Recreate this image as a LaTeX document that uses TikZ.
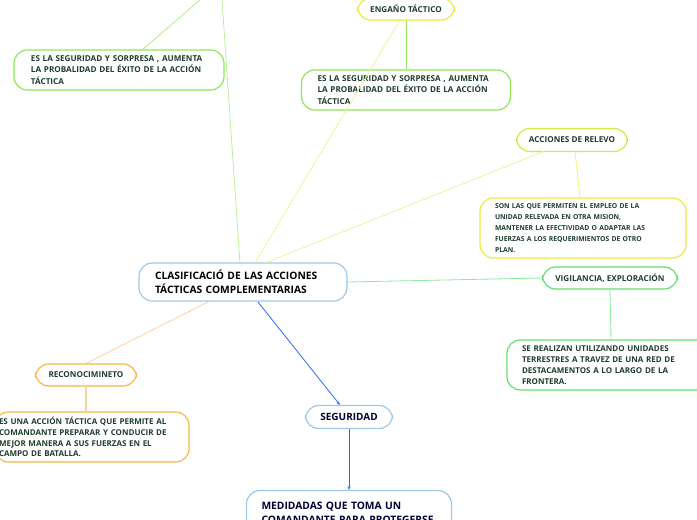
\documentclass[tikz,border=0pt]{standalone}
\usepackage{fontspec}
\setmainfont{Open Sans}
\usetikzlibrary{arrows.meta}
\begin{document}
\begin{tikzpicture}[x=0.75pt,y=-0.75pt,
 box/.style={draw,rounded corners=10pt,line width=0.9pt,inner sep=0pt,font=\bfseries\fontsize{6.1}{8.4}\selectfont,text=txt},
 tw/.style={text width=#1*0.75pt,align=left},
 lnk/.style={line width=0.6pt}]
\definecolor{txt}{HTML}{1E3D2C}
\definecolor{gr}{HTML}{8EE65A}
\definecolor{ye}{HTML}{EDEB3A}
\definecolor{lye}{HTML}{F3F09A}
\definecolor{or}{HTML}{F6B544}
\definecolor{lor}{HTML}{F9D39A}
\definecolor{bl}{HTML}{9DC7E6}
\definecolor{arr}{HTML}{2C6BF0}
\definecolor{vg}{HTML}{5EE06E}
\useasboundingbox (0,0) rectangle (697,520);
% nodes
\node[box,draw=bl,minimum width=208*0.75pt,minimum height=38*0.75pt,text=black,font=\bfseries\fontsize{7.7}{10.5}\selectfont,tw=176] (c) at (243,282) {CLASIFICACIÓ DE LAS ACCIONES\\TÁCTICAS COMPLEMENTARIAS};
\node[box,draw=gr,minimum width=210*0.75pt,minimum height=40*0.75pt,tw=176] (a1) at (119,70) {ES LA SEGURIDAD Y SORPRESA ,  AUMENTA\\LA PROBALIDAD DEL ÉXITO DE LA ACCIÓN\\TÁCTICA};
\node[box,draw=ye,minimum width=97*0.75pt,minimum height=22*0.75pt] (eng) at (406,9) {ENGAÑO TÁCTICO};
\node[box,draw=gr,minimum width=209*0.75pt,minimum height=40*0.75pt,tw=177] (a2) at (406,90) {ES LA SEGURIDAD Y SORPRESA ,  AUMENTA\\LA PROBALIDAD DEL ÉXITO DE LA ACCIÓN\\TÁCTICA};
\node[box,draw=ye!70!gr,minimum width=111*0.75pt,minimum height=23*0.75pt] (rel) at (572,140) {ACCIONES DE RELEVO};
\node[box,draw=ye,minimum width=206*0.75pt,minimum height=60*0.75pt,tw=176,font=\bfseries\fontsize{5.1}{8.2}\selectfont] (reld) at (583,228) {SON LAS QUE PERMITEN EL EMPLEO DE LA\\UNIDAD RELEVADA EN OTRA MISION,\\MANTENER LA EFECTIVIDAD O ADAPTAR LAS\\FUERZAS A LOS REQUERIMIENTOS DE OTRO\\PLAN.};
\node[box,draw=vg,minimum width=135*0.75pt,minimum height=22*0.75pt] (vig) at (610,278) {VIGILANCIA, EXPLORACIÓN};
\node[box,draw=vg,minimum width=210*0.75pt,minimum height=50*0.75pt,tw=180,font=\bfseries\fontsize{6.0}{8.1}\selectfont] (vigd) at (612,365) {SE REALIZAN UTILIZANDO UNIDADES\\TERRESTRES A TRAVEZ DE UNA RED DE\\DESTACAMENTOS A LO LARGO DE LA\\FRONTERA.};
\node[box,draw=or,minimum width=101*0.75pt,minimum height=22*0.75pt] (rec) at (86,375) {RECONOCIMINETO};
\node[box,draw=or,minimum width=194*0.75pt,minimum height=50*0.75pt,tw=186,font=\bfseries\fontsize{6.0}{8.1}\selectfont] (recd) at (92,437) {ES UNA ACCIÓN TÁCTICA QUE PERMITE AL\\COMANDANTE PREPARAR Y CONDUCIR DE\\MEJOR MANERA A SUS FUERZAS EN EL\\CAMPO DE BATALLA.};
\node[box,draw=bl,minimum width=87*0.75pt,minimum height=23*0.75pt,text=black!80!blue,font=\bfseries\fontsize{7.5}{9}\selectfont] (seg) at (349,417) {SEGURIDAD};
\node[box,draw=bl,minimum width=205*0.75pt,minimum height=44*0.75pt,anchor=north,text=black!80!blue,font=\bfseries\fontsize{7.7}{10.5}\selectfont,tw=175] (med) at (349,490) {MEDIDADAS QUE TOMA UN\\COMANDANTE PARA PROTEGERSE};
\coordinate (o1) at (222,0);
\coordinate (o2) at (200,0);
\coordinate (a1t) at (142,50);
% links
\draw[lnk,gr!60] (240,263) -- (o1);
\draw[lnk,gr!70] (o2) -- (a1t);
\draw[lnk,lye] (255,263) -- (400,20);
\draw[lnk,gr] (eng.south) -- (a2.north);
\draw[lnk,lye] (265,263) -- (545,151);
\draw[lnk,ye!70] (575,151) -- (580,198);
\draw[lnk,vg!70] (c.east) -- (vig.west);
\draw[lnk,vg!70] (vig.south) -- (611,340);
\draw[lnk,lor] (210,301) -- (rec.north);
\draw[lnk,lor,line width=1pt] (rec.south) -- (86,412);
\draw[lnk,arr,-{Stealth[length=3pt]}] (258,302) -- (340,405);
\draw[lnk,arr,-{Stealth[length=3pt]}] (seg.south) -- (med.north);
\end{tikzpicture}
\end{document}
